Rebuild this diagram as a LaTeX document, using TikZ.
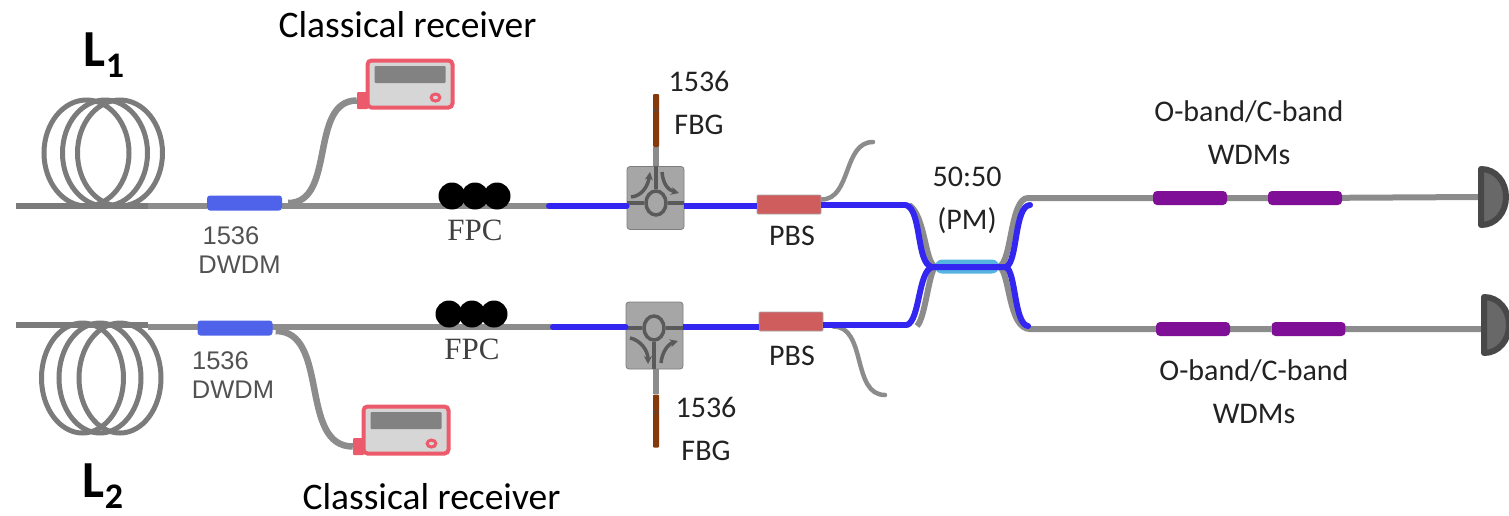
\documentclass[tikz,border=0pt]{standalone}
\usepackage{fontspec}
\setmainfont{Carlito}
\newfontfamily\dwdmfont{Liberation Sans}
\newfontfamily\fpcfont{Liberation Serif}
\usetikzlibrary{shapes.geometric, arrows.meta, positioning, backgrounds}
\definecolor{FiberGray}{HTML}{8C8C8C}
\definecolor{CoilGray}{HTML}{7B7B7B}
\definecolor{PumpBlue}{HTML}{3226F0}
\definecolor{DwdmBlue}{HTML}{4F63EA}
\definecolor{CouplerCyan}{HTML}{55B5E0}
\definecolor{PbsRed}{HTML}{CF5D5D}
\definecolor{WdmPurple}{HTML}{7F0F96}
\definecolor{FbgBrown}{HTML}{843A0C}
\definecolor{RxPink}{HTML}{EC5B6B}
\definecolor{RxPanel}{HTML}{D6D6D6}
\definecolor{RxScreen}{HTML}{828282}
\definecolor{BoxGray}{HTML}{A6A6A6}
\definecolor{PortGray}{HTML}{5A5A5A}
\definecolor{DetDark}{HTML}{484848}
\definecolor{DetFill}{HTML}{686868}
\definecolor{LabelInk}{HTML}{222222}

\begin{document}
\begin{tikzpicture}[
    x=1pt, y=-1pt,
    fiber/.style={draw=FiberGray, line width=6pt},
    leadfiber/.style={draw=CoilGray, line width=6pt},
    pump/.style={draw=PumpBlue, line width=6pt, line cap=round},
    ring/.style={ellipse, draw=CoilGray, line width=5pt, minimum width=85pt, minimum height=106pt, inner sep=0pt},
    dwdm/.style={rectangle, rounded corners=3pt, fill=DwdmBlue, minimum width=75pt, minimum height=15pt, inner sep=0pt},
    wdm/.style={rectangle, rounded corners=4pt, fill=WdmPurple, minimum width=74pt, minimum height=14pt, inner sep=0pt},
    pbs/.style={rectangle, rounded corners=1pt, fill=PbsRed, draw=BoxGray, line width=0.8pt, minimum width=64pt, minimum height=19pt, inner sep=0pt},
    paddle/.style={circle, fill=black, minimum size=27pt, inner sep=0pt},
    fbg/.style={rectangle, rounded corners=1pt, fill=FbgBrown, minimum width=6pt, minimum height=53pt, inner sep=0pt},
    fbgtick/.style={draw=black!70, line width=0.8pt, dash pattern=on 2pt off 2pt},
    circbox/.style={rectangle, rounded corners=3pt, fill=BoxGray, draw=black!25!BoxGray, line width=0.8pt, minimum width=57pt, inner sep=0pt},
    circring/.style={ellipse, draw=PortGray, fill=BoxGray, line width=3.5pt, minimum width=20pt, minimum height=24pt, inner sep=0pt},
    port/.style={draw=PortGray, line width=3.5pt},
    circarrow/.style={draw=PortGray, line width=3.5pt, -{Stealth[length=8pt,width=8pt]}},
    rxbody/.style={rectangle, rounded corners=4pt, fill=RxPanel, draw=RxPink, line width=4pt, minimum width=85pt, minimum height=47pt, inner sep=0pt},
    rxtab/.style={rectangle, rounded corners=1pt, fill=RxPink, minimum width=11pt, minimum height=17pt, inner sep=0pt},
    rxscreen/.style={rectangle, rounded corners=1pt, fill=RxScreen, minimum width=71pt, minimum height=17pt, inner sep=0pt},
    rxbutton/.style={circle, fill=RxPanel, draw=RxPink, line width=3pt, minimum size=7pt, inner sep=0pt, xscale=1.25},
    lab/.style={inner sep=0pt, align=center, text=LabelInk, font=\fontsize{30}{43}\selectfont},
    rxlab/.style={inner sep=0pt, text=black, font=\fontsize{37.5}{37.5}\selectfont},
    coillab/.style={inner sep=0pt, text=black, font=\bfseries\fontsize{52}{52}\selectfont},
    dwdmlab/.style={inner sep=0pt, align=center, text=black!68, font=\dwdmfont\fontsize{25.5}{29}\selectfont},
    fpclab/.style={inner sep=0pt, text=black!75, font=\fpcfont\fontsize{31}{31}\selectfont},
    detector/.pic={
        \draw[draw=DetDark, fill=DetFill, line width=6pt, line join=round]
            (3,-28) .. controls (18,-28) and (28,-15) .. (28,0)
            .. controls (28,15) and (18,28) .. (3,28) -- cycle;
    }
]
    \useasboundingbox (0,0) rectangle (1509,515);

    \coordinate (startA) at (16,206);
    \coordinate (coilEndA) at (148,206);
    \coordinate (startB) at (16,325);
    \coordinate (coilEndB) at (148,325);
    \coordinate (blueA) at (549,206);
    \coordinate (blueB) at (553,327);
    \coordinate (bendA) at (906,205);
    \coordinate (bendB) at (907,325);
    \coordinate (spurA) at (873,142);
    \coordinate (spurB) at (885,395);
    \coordinate (outA) at (1028,198);
    \coordinate (outB) at (1030,329);
    \coordinate (detA) at (1478,197);
    \coordinate (detB) at (1481,325);

    % coils
    \foreach \i/\xc in {1/86.5, 2/105, 3/120}
        \node[ring] (coilA\i) at (\xc,153) {};
    \foreach \i/\xc in {1/82.5, 2/100, 3/120}
        \node[ring, minimum width=82pt, minimum height=110pt] (coilB\i) at (\xc,378) {};

    % inline parts
    \node[dwdm] (dwdmA) at (244.5,203) {};
    \node[dwdm] (dwdmB) at (235,328) {};
    \foreach \i/\xc in {1/452, 2/475, 3/497} {
        \node[paddle] (fpcA\i) at (\xc,196) {};
        \node[paddle] (fpcB\i) at (\xc-3,314) {};
    }
    \node[circbox, minimum height=63pt] (circA) at (655.5,198) {};
    \node[circbox, minimum height=67pt] (circB) at (654.5,335.5) {};
    \node[fbg] (fbgA) at (656,120.5) {};
    \node[fbg] (fbgB) at (656,421) {};
    \node[pbs] (pbsA) at (789,204.5) {};
    \node[pbs] (pbsB) at (791,321.5) {};
    \node[rectangle, rounded corners=7pt, fill=CouplerCyan, minimum width=64pt, minimum height=14pt, inner sep=0pt] (cpl) at (967,266.5) {};
    \node[wdm] (wdmA1) at (1190,198) {};
    \node[wdm] (wdmA2) at (1305,198) {};
    \node[wdm] (wdmB1) at (1193,329) {};
    \node[wdm] (wdmB2) at (1308.5,329) {};

    % receivers
    \node[rxbody] (rxA) at (410,84) {};
    \node[rxtab] (tabA) at (362.5,100.5) {};
    \node[rxscreen] (screenA) at (410,74.5) {};
    \node[rxbutton] (buttonA) at (435.5,97.5) {};
    \node[rxbody] (rxB) at (406,430) {};
    \node[rxtab] (tabB) at (358.5,446.5) {};
    \node[rxscreen] (screenB) at (406,420.5) {};
    \node[rxbutton] (buttonB) at (431.5,443.5) {};

    % circulator insides
    \node[circring] (eyeA) at (656,203) {};
    \node[circring] (eyeB) at (654,328) {};
    \draw[port] (circA.west |- eyeA) -- (eyeA.west);
    \draw[port] (eyeA.east) -- (circA.east |- eyeA);
    \draw[port] (eyeA.north) -- (circA.north -| eyeA);
    \draw[port] (circB.west |- eyeB) -- (eyeB.west);
    \draw[port] (eyeB.east) -- (circB.east |- eyeB);
    \draw[port] (eyeB.south) -- (circB.south -| eyeB);
    \draw[circarrow] (631,197) .. controls (642,196) and (648,186) .. (650,172);
    \draw[circarrow] (662,172) .. controls (663,184) and (668,190) .. (679,193);
    \draw[circarrow] (630,338) .. controls (640,340) and (648,350) .. (648,364);
    \draw[circarrow] (661,363) .. controls (662,352) and (668,344) .. (678,341);

    % fibres
    \begin{pgfonlayer}{background}
        \draw[leadfiber] (startA) -- (coilEndA);
        \draw[fiber] (coilEndA) -- (dwdmA.west |- coilEndA);
        \draw[fiber] (dwdmA.east |- blueA) -- (blueA);
        \draw[leadfiber] (startB) -- (coilEndB);
        \draw[fiber] (coilEndB |- blueB) -- (blueB);
        \draw[fiber, line width=6.5pt] (dwdmA.east) ++(6,0) to[out=0, in=180] (tabA.west);
        \draw[fiber, line width=6.5pt] (dwdmB.east) ++(3,3) to[out=0, in=180] (tabB.west);
        \draw[fiber] (circA.north -| fbgA) -- (fbgA.south);
        \draw[fiber] (circB.south -| fbgB) -- (fbgB.north);
        \draw[fiber, line width=4.5pt, line cap=round] (pbsA.east) ++(0,-5) to[out=0, in=180] (spurA);
        \draw[fiber, line width=4.5pt, line cap=round] (pbsB.east) ++(10,5) to[out=0, in=180] (spurB);
        \draw[fiber] (bendA) ++(3,0) .. controls (925,215) and (925,262) .. (cpl.west);
        \draw[fiber] (bendB) ++(10,1) .. controls (925,318) and (928,278) .. (cpl.west);
        \draw[fiber] (cpl.east) .. controls (1012,262) and (1010,198) .. (outA) -- (wdmA1) -- (wdmA2) -- (detA);
        \draw[fiber] (cpl.east) .. controls (1010,272) and (1008,329) .. (outB) -- (outB -| wdmB1) -- (wdmB2) -- (wdmB2 -| detB);
    \end{pgfonlayer}
    \draw[pump] (blueA) -- (circA.west |- blueA);
    \draw[pump, line cap=butt] (circA.east |- blueA) -- (pbsA.west |- blueA);
    \draw[pump, line cap=butt] (pbsA.east |- bendA) -- (bendA);
    \draw[pump] (bendA) .. controls (922,210) and (916,264) .. (932,267) -- (1006,267)
        .. controls (1018,262) and (1014,206) .. (1030,205);
    \draw[pump] (blueB) -- (circB.west |- blueB);
    \draw[pump, line cap=butt] (circB.east |- blueB) -- (pbsB.west |- blueB);
    \draw[pump, line cap=butt] (pbsB.east |- bendB) -- (bendB);
    \draw[pump] (bendB) .. controls (920,320) and (918,272) .. (932,267);
    \draw[pump] (1006,267) .. controls (1016,272) and (1014,324) .. (1028,326);

    % gratings
    \draw[fbgtick] (653,109) -- (659,109);
    \draw[fbgtick] (653,111) -- (659,111);
    \draw[fbgtick] (653,411) -- (659,411);
    \draw[fbgtick] (653,413) -- (659,413);

    % detectors
    \pic at (detA) {detector};
    \pic at (detB) {detector};

    % labels
    \node[coillab] (nameA) at (104,55) {L\raisebox{-.22em}{\fontsize{36}{36}\selectfont 1}};
    \node[coillab] (nameB) at (103,486) {L\raisebox{-.22em}{\fontsize{36}{36}\selectfont 2}};
    \node[rxlab] (rxlabA) at (407.5,25) {Classical receiver};
    \node[rxlab] (rxlabB) at (431.5,497) {Classical receiver};
    \node[dwdmlab] (dwdmlabA) at (239.5,250) {\hspace*{-17pt}1536\\DWDM};
    \node[dwdmlab] (dwdmlabB) at (233,375.5) {\hspace*{-25pt}1536\\DWDM};
    \node[fpclab, below=10pt of fpcA2] (fpclabA) {FPC};
    \node[fpclab, below=11pt of fpcB2] (fpclabB) {FPC};
    \node[lab] (fbglabA) at (699,103) {1536\\FBG};
    \node[lab] (fbglabB) at (706,428.5) {1536\\FBG};
    \node[lab, below=11pt of pbsA, xshift=3pt] (pbslabA) {PBS};
    \node[lab, below=14pt of pbsB, xshift=1pt] (pbslabB) {PBS};
    \node[lab] (cpllab) at (967,200) {50:50\\(PM)};
    \node[lab] (wdmlabA) at (1249,133) {O-band/C-band\\WDMs};
    \node[lab] (wdmlabB) at (1254,391.5) {O-band/C-band\\WDMs};
\end{tikzpicture}
\end{document}
